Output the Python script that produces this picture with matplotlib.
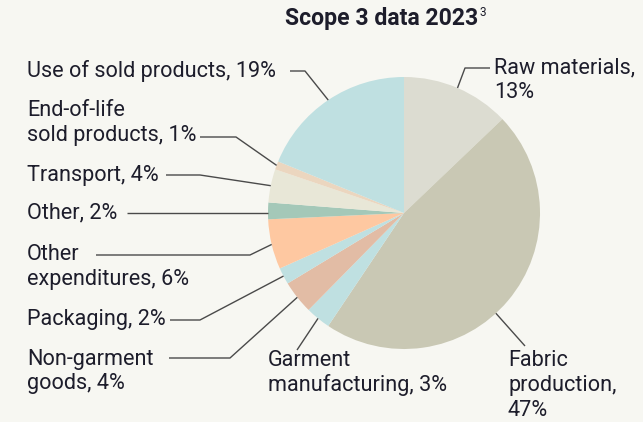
import numpy as np
import matplotlib
matplotlib.use("Agg")
import matplotlib.pyplot as plt

# Scope 3 emission categories, clockwise from 12 o'clock
categories = [
    "Raw materials", "Fabric production", "Garment manufacturing",
    "Non-garment goods", "Packaging", "Other expenditures", "Other",
    "Transport", "End-of-life sold products", "Use of sold products",
]
shares = [13, 47, 3, 4, 2, 6, 2, 4, 1, 19]
colors = [
    "#dcdcd1", "#c9c8b4", "#bfe0e1", "#e2bca5", "#bfe0e1",
    "#fec8a1", "#a4c8b8", "#e8e7d7", "#ebd6bf", "#bfe0e1",
]
label_texts = [
    "Raw materials,\n13%", "Fabric\nproduction,\n47%", "Garment\nmanufacturing, 3%",
    "Non-garment\ngoods, 4%", "Packaging, 2%", "Other\nexpenditures, 6%", "Other, 2%",
    "Transport, 4%", "End-of-life\nsold products, 1%", "Use of sold products, 19%",
]

W, H = 643, 422
BG = "#f7f7f2"
TXT = "#1d1d2b"
LINE = "#4a4a4a"
FONT = "Roboto"

fig = plt.figure(figsize=(W / 100, H / 100), dpi=100, facecolor=BG)
ax = fig.add_axes([0, 0, 1, 1])
ax.set_facecolor(BG)

cx, cy, r = 404, H - 213, 136
wedges, _ = ax.pie(shares, colors=colors, startangle=90, counterclock=False,
                   center=(cx, cy), radius=r,
                   wedgeprops=dict(linewidth=0))
ax.set_xlim(0, W)
ax.set_ylim(0, H)
ax.set_aspect("equal")
ax.axis("off")


def Y(y):
    return H - y


# label layout: text anchor (x, y top-line centre), leader path from the text
# outward to the wedge edge; an optional angle pins the edge point
layout = {
    "Raw materials":            dict(tx=494, ty=68,  path=[(490, 68), (465, 68)]),
    "Fabric production":        dict(tx=508, ty=360, path=[(525, 346)], ang=-47.5),
    "Garment manufacturing":    dict(tx=268, ty=360, path=[(297, 350)]),
    "Non-garment goods":        dict(tx=27,  ty=359, path=[(169, 358), (230, 358)]),
    "Packaging":                dict(tx=27,  ty=320, path=[(170, 320), (200, 320)]),
    "Other expenditures":       dict(tx=27,  ty=255, path=[(96, 255), (250, 255)]),
    "Other":                    dict(tx=27,  ty=213, path=[(127, 213)], flat=True),
    "Transport":                dict(tx=27,  ty=175, path=[(166, 175), (200, 175)]),
    "End-of-life sold products": dict(tx=27, ty=110, path=[(200, 137), (236, 137)]),
    "Use of sold products":     dict(tx=27,  ty=71,  path=[(290, 71), (305, 71)]),
}

fs = 15.6
line_gap = 25.0
for w, cat, txt in zip(wedges, categories, label_texts):
    L = layout[cat]
    ang = L.get("ang", 0.5 * (w.theta1 + w.theta2))
    ex = cx + r * np.cos(np.deg2rad(ang))
    ey = cy + r * np.sin(np.deg2rad(ang))
    pts = [(x, Y(y)) for x, y in L["path"]]
    if L.get("flat"):
        pts.append((ex, pts[-1][1]))
    else:
        pts.append((ex, ey))
    xs, ys = zip(*pts)
    ax.plot(xs, ys, color=LINE, lw=1.0, solid_capstyle="butt", zorder=3)
    for i, line in enumerate(txt.split("\n")):
        ax.text(L["tx"], Y(L["ty"] + i * line_gap), line, ha="left", va="center",
                fontsize=fs, color=TXT, family=FONT)

t = ax.text(285, Y(18), "Scope 3 data 2023", ha="left", va="center",
            fontsize=16.6, fontweight="bold", color=TXT, family=FONT)
fig.canvas.draw()
bb = t.get_window_extent()
ax.text(bb.x1 + 1, Y(12), "3", ha="left", va="center", fontsize=8.5,
        color=TXT, family=FONT)

fig.savefig("out.png", dpi=100, facecolor=BG)
